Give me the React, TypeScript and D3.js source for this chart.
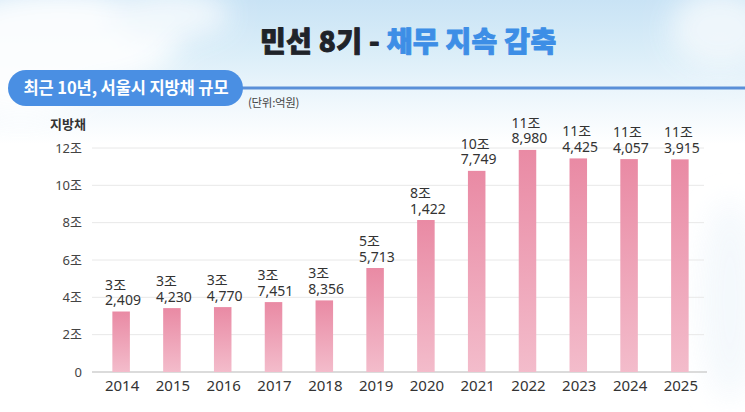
import React from 'react';
import * as d3 from 'd3';

const years = ['2014','2015','2016','2017','2018','2019','2020','2021','2022','2023','2024','2025'];
const joValues = [3,3,3,3,3,5,8,10,11,11,11,11];
const eokValues = [2409,4230,4770,7451,8356,5713,1422,7749,8980,4425,4057,3915];
const yTicks = [0,2,4,6,8,10,12];
const yTickLabels = ['0','2조','4조','6조','8조','10조','12조'];

const W = 745, H = 412;
const LATIN = "'Noto Sans', 'Noto Sans CJK KR', sans-serif";
const KR = "'Noto Sans CJK KR', 'Noto Sans', sans-serif";

export default function App() {
  const totals = joValues.map((j, i) => j * 10000 + eokValues[i]);
  const x = d3.scaleBand<string>().domain(years).range([95.6, 705.4]).paddingInner(0.655).paddingOuter(0.33);
  const y = d3.scaleLinear().domain([0, 120000]).range([372, 148]);
  const bw = x.bandwidth();
  const fmt = d3.format(',');

  return (
    <svg width={W} height={H} style={{ position: 'absolute', left: 0, top: 0 }}>
      <defs>
        <linearGradient id="sky" x1="0" y1="0" x2="0" y2="1">
          <stop offset="0" stopColor="#c9e3f5" />
          <stop offset="0.12" stopColor="#d9edf8" />
          <stop offset="0.27" stopColor="#f3f9fd" />
          <stop offset="0.35" stopColor="#ffffff" />
          <stop offset="1" stopColor="#ffffff" />
        </linearGradient>
        <linearGradient id="bar" x1="0" y1="0" x2="0" y2="1">
          <stop offset="0" stopColor="#e98aa4" />
          <stop offset="1" stopColor="#f3bccb" />
        </linearGradient>
        <filter id="blur" x="-50%" y="-50%" width="200%" height="200%">
          <feGaussianBlur stdDeviation="14" />
        </filter>
      </defs>
      <rect x={0} y={0} width={W} height={H} fill="url(#sky)" />
      <g filter="url(#blur)" opacity={0.9}>
        <ellipse cx={60} cy={40} rx={120} ry={50} fill="#ffffff" />
        <ellipse cx={170} cy={15} rx={60} ry={25} fill="#f4f9fd" />
        <ellipse cx={20} cy={90} rx={60} ry={30} fill="#ffffff" />
        <ellipse cx={720} cy={30} rx={50} ry={40} fill="#f2f8fc" />
        <ellipse cx={730} cy={300} rx={30} ry={100} fill="#f3f8fc" />
      </g>

      {/* title */}
      <text x={260} y={52} fontFamily={KR} fontWeight={900} fontSize={28} letterSpacing={0.3} strokeWidth={0.9} strokeLinejoin="round">
        <tspan fill="#1f2329" stroke="#1f2329">민선 8기 - </tspan>
        <tspan fill="#3d8ee6" stroke="#3d8ee6">채무 지속 감축</tspan>
      </text>

      {/* tab */}
      <rect x={240} y={86.5} width={W - 240} height={3} fill="#5a8fd8" />
      <rect x={8} y={70} width={235} height={36} rx={18} fill="#4a8fe3" />
      <text x={126} y={94} textAnchor="middle" fontFamily={KR} fontWeight={700} fontSize={16.5} fill="#ffffff" letterSpacing={-0.1}>최근 10년, 서울시 지방채 규모</text>
      <text x={248} y={107} fontFamily={KR} fontSize={11.5} fill="#444" letterSpacing={-0.3}>(단위:억원)</text>

      {/* y axis title */}
      <text x={68} y={129} textAnchor="middle" fontFamily={KR} fontWeight={700} fontSize={13} fill="#333">지방채</text>

      {/* grid */}
      {yTicks.map((t, i) => (
        <g key={t}>
          <line x1={92} x2={i === 0 ? 707 : 704} y1={y(t * 10000)} y2={y(t * 10000)} stroke={i === 0 ? '#cfcfcf' : '#e8e8e8'} strokeWidth={i === 0 ? 1.3 : 1} />
          <text x={82} y={y(t * 10000) + 4.5} textAnchor="end" fontFamily={LATIN} fontSize={13} fill="#444">{yTickLabels[i]}</text>
        </g>
      ))}

      {/* bars */}
      {years.map((yr, i) => {
        const bx = x(yr)!;
        const top = y(totals[i]);
        const cx = bx + bw / 2;
        return (
          <g key={yr}>
            <rect x={bx} y={top} width={bw} height={y(0) - top} fill="url(#bar)" />
            <text x={cx - 16} y={top - 22} fontFamily={LATIN} fontSize={14} fill="#333">
              <tspan x={cx - 16} y={top - 22}>{joValues[i]}조</tspan>
              <tspan x={cx - 16} y={top - 6.5}>{fmt(eokValues[i])}</tspan>
            </text>
            <text x={cx + 1} y={390.5} textAnchor="middle" fontFamily={LATIN} fontSize={15} fill="#333">{yr}</text>
          </g>
        );
      })}
    </svg>
  );
}
